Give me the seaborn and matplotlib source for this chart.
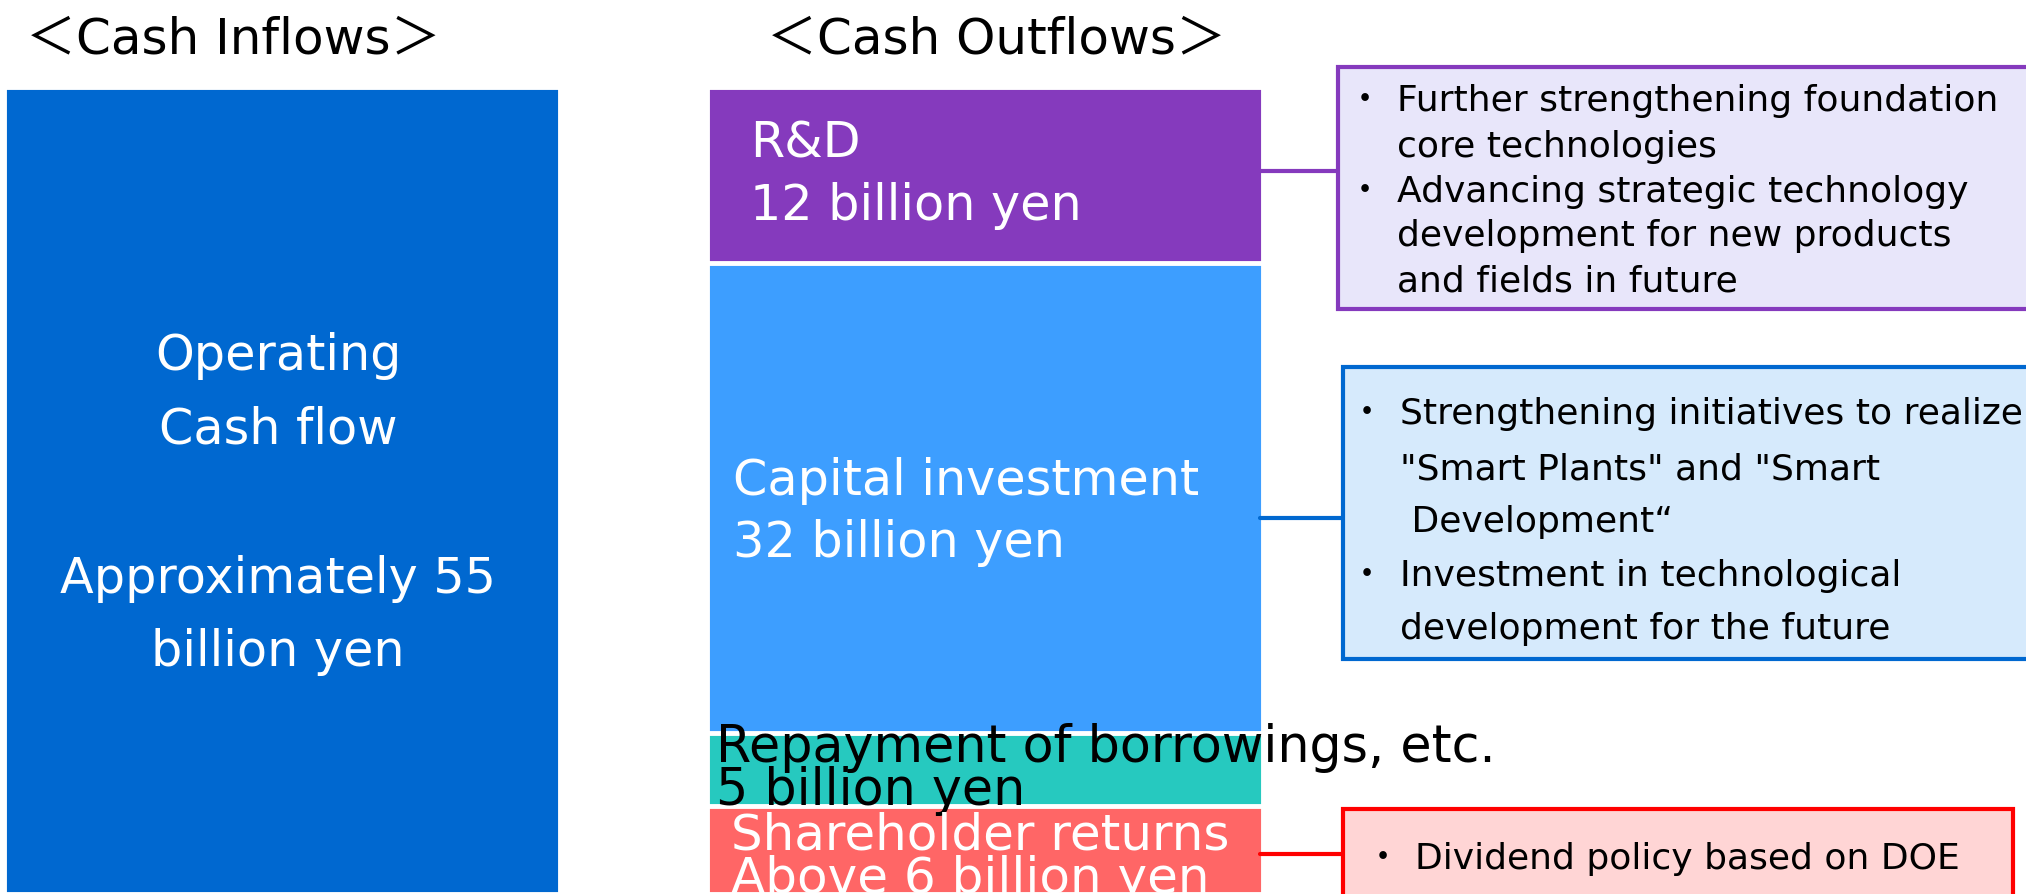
import numpy as np
import pandas as pd
import matplotlib
matplotlib.use("Agg")
import matplotlib.pyplot as plt
from matplotlib.patches import Rectangle
from matplotlib.lines import Line2D
import seaborn as sns

# ---- data (billion yen) ----
sides = ["Cash Inflows", "Cash Outflows"]
inflow_items = ["Operating cash flow"]
inflow_values = [55]
outflow_items = ["R&D", "Capital investment", "Repayment of borrowings, etc.", "Shareholder returns"]
outflow_values = [12, 32, 5, 6]

inflow_color = "#0068D0"
outflow_colors = ["#853ABD", "#3D9EFF", "#26C9BF", "#FF6666"]

W, H = 2026, 894

sns.set_theme(style="white")
plt.rcParams["font.family"] = ["DejaVu Sans", "Noto Sans CJK JP"]
plt.rcParams["text.color"] = "black"

fig = plt.figure(figsize=(W / 100, H / 100), dpi=100)
ax = fig.add_axes([0, 0, 1, 1])

df = pd.DataFrame({
    "side": [sides[0]] * len(inflow_items) + [sides[1]] * len(outflow_items),
    "item": inflow_items + outflow_items,
    "value": inflow_values + outflow_values,
    "color": [inflow_color] + outflow_colors,
})
df["cum"] = df.groupby("side")["value"].cumsum()

# stacked bars: cumulative totals drawn largest first, so each segment stays visible
for _, row in df.sort_values("cum", ascending=False).iterrows():
    sns.barplot(x=[row["side"]], y=[row["cum"]], order=sides, color=row["color"],
                saturation=1, width=0.79, errorbar=None,
                edgecolor="white", linewidth=3.5, ax=ax)

ax.set_xlim(-282 / 703, (W - 282) / 703)
ax.set_ylim(55.0, -87 / 14.67)
ax.axis("off")


# ---- annotations (pixel positions, origin top-left) ----
def put(x, y, s, **kw):
    kw.setdefault("va", "baseline")
    kw.setdefault("color", "black")
    fig.text(x / W, 1 - y / H, s, **kw)


def hline(x0, x1, y, color):
    fig.add_artist(Line2D([x0 / W, x1 / W], [1 - y / H] * 2, color=color, lw=3))


def box(x0, y0, x1, y1, face, edge):
    fig.add_artist(Rectangle((x0 / W, 1 - y1 / H), (x1 - x0) / W, (y1 - y0) / H,
                             facecolor=face, edgecolor=edge, lw=3))


put(233, 53, "＜Cash Inflows＞", fontsize=36, ha="center")
put(996, 53, "＜Cash Outflows＞", fontsize=36, ha="center")

# inflow label
for y, s in zip([370, 444, 593, 666], ["Operating", "Cash flow", "Approximately 55", "billion yen"]):
    put(278, y, s, fontsize=35.5, color="white", ha="center")

# outflow labels
put(750, 157, "R&D", fontsize=35.5, color="white")
put(750, 220, "12 billion yen", fontsize=35.5, color="white")
put(733, 495, "Capital investment", fontsize=35.5, color="white")
put(733, 557, "32 billion yen", fontsize=35.5, color="white")
put(716, 762, "Repayment of borrowings, etc.", fontsize=36.5)
put(716, 805, "5 billion yen", fontsize=36.5)
put(731, 850, "Shareholder returns", fontsize=36, color="white")
put(731, 893, "Above 6 billion yen", fontsize=36, color="white")

# side boxes with connectors
hline(1260, 1338, 171, "#853ABD")
box(1338, 67, 2060, 309, "#E8E6FA", "#853ABD")
hline(1260, 1343, 518, "#0068D0")
box(1343, 367, 2060, 659, "#D6EAFC", "#0068D0")
hline(1260, 1343, 854, "#FF0000")
box(1343, 809, 2013, 920, "#FFD5D5", "#FF0000")

fs_box = 26
bullet = dict(fontsize=fs_box, ha="center", family=["Noto Sans CJK JP", "DejaVu Sans"])

purple_lines = ["Further strengthening foundation", "core technologies",
                "Advancing strategic technology", "development for new products",
                "and fields in future"]
for y, s in zip([111, 157, 202, 246, 291], purple_lines):
    put(1397, y, s, fontsize=fs_box)
put(1365, 111, "・", **bullet)
put(1365, 202, "・", **bullet)

blue_lines = ["Strengthening initiatives to realize", "\"Smart Plants\" and \"Smart",
              " Development“", "Investment in technological", "development for the future"]
for y, s in zip([424, 479, 532, 586, 639], blue_lines):
    put(1400, y, s, fontsize=fs_box)
put(1367, 424, "・", **bullet)
put(1367, 586, "・", **bullet)

put(1415, 869, "Dividend policy based on DOE", fontsize=fs_box)
put(1383, 869, "・", **bullet)

fig.savefig("out.png", dpi=100)
